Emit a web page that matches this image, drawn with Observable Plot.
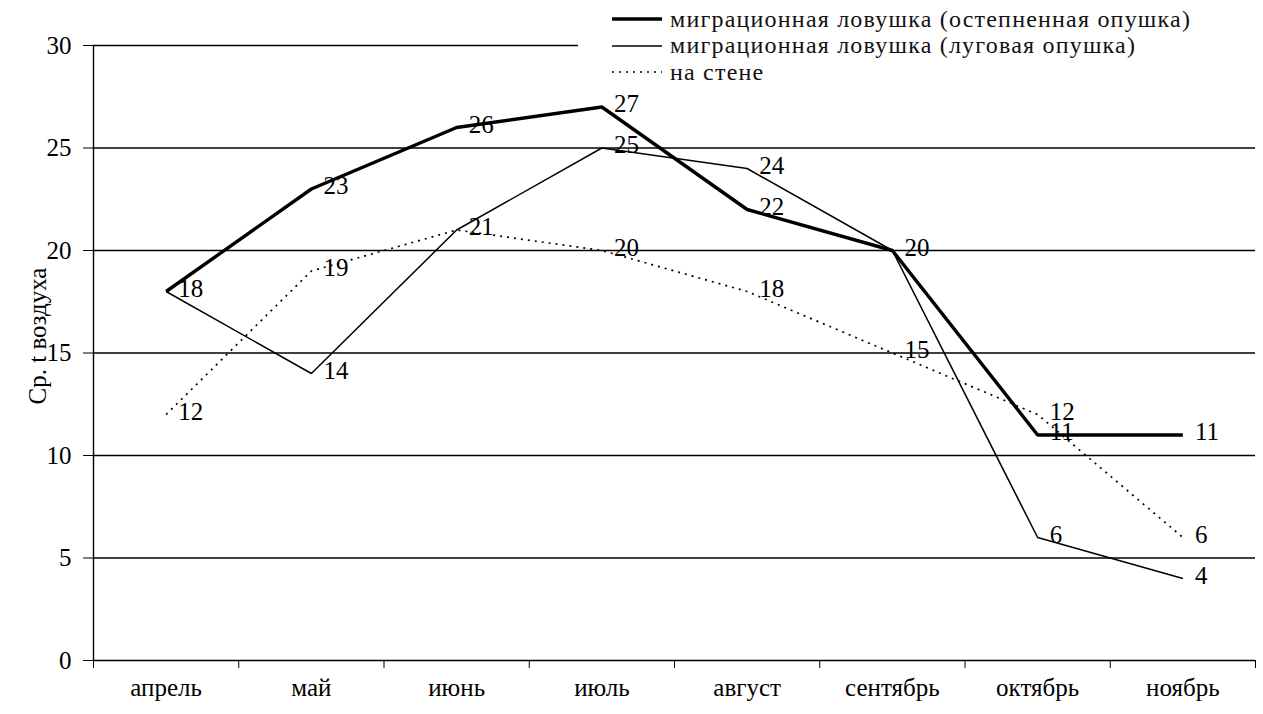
<!DOCTYPE html>
<html>
<head>
<meta charset="utf-8">
<script src="https://cdn.jsdelivr.net/npm/d3@7"></script>
<script src="https://cdn.jsdelivr.net/npm/@observablehq/plot@0.6"></script>
<style>
  body { margin: 0; background: #fff; }
  #wrap { position: relative; width: 1263px; height: 714px; font-family: "Liberation Serif", "DejaVu Serif", serif; }
  #legend { position: absolute; left: 578px; top: 6px; width: 685px; background: #fff; padding: 0 0 4px 34px; font-size: 24px; letter-spacing: 1.2px; color: #111; line-height: 27px; }
  #legend .row { display: flex; align-items: center; height: 26.5px; white-space: nowrap; }
  #legend svg { margin-right: 8px; flex: none; }
</style>
</head>
<body>
<div id="wrap">
  <div id="chart"></div>
  <div id="legend"></div>
</div>
<script>
const months = ["апрель","май","июнь","июль","август","сентябрь","октябрь","ноябрь"];
const steppe = [18, 23, 26, 27, 22, 20, 11, 11];
const meadow = [18, 14, 21, 25, 24, 20, 6, 4];
const wall   = [12, 19, 21, 20, 18, 15, 12, 6];
const yTicks = [0, 5, 10, 15, 20, 25, 30];
const yLabel = "Ср. t воздуха";
const seriesNames = [
  "миграционная ловушка (остепненная опушка)",
  "миграционная ловушка (луговая опушка)",
  "на стене"
];

const seriesStyle = [
  {key: "steppe", values: steppe, strokeWidth: 3.4, dash: null},
  {key: "meadow", values: meadow, strokeWidth: 1.5, dash: null},
  {key: "wall",   values: wall,   strokeWidth: 1.7, dash: "2,5"}
];

const rows = [];
seriesStyle.forEach((s, si) => {
  s.values.forEach((v, i) => rows.push({series: s.key, name: seriesNames[si], month: months[i], x: i + 0.5, y: v}));
});
// one label per distinct (month, value) point, as in the original
const labelRows = rows.filter((r, idx) => rows.findIndex(q => q.x === r.x && q.y === r.y) === idx);

const bounds = d3.range(months.length + 1);
const centers = months.map((m, i) => i + 0.5);
const font = "Liberation Serif";

const lineMarks = seriesStyle.map(s => Plot.line(rows.filter(r => r.series === s.key), {
  x: "x", y: "y", stroke: "#000", strokeWidth: s.strokeWidth,
  strokeDasharray: s.dash, strokeLinejoin: "miter", strokeLinecap: "butt"
}));

const chart = Plot.plot({
  width: 1263,
  height: 714,
  marginLeft: 93,
  marginRight: 8,
  marginTop: 45,
  marginBottom: 54,
  style: {fontFamily: font, background: "#fff", color: "#000"},
  x: {type: "linear", domain: [0, months.length]},
  y: {domain: [0, 30]},
  marks: [
    Plot.ruleY(yTicks, {stroke: "#000", strokeWidth: 1.4}),
    Plot.ruleX([0], {stroke: "#000", strokeWidth: 1.4}),
    Plot.axisY(yTicks, {tickSize: 10, tickPadding: 12, fontSize: 25, stroke: "#000", label: null}),
    Plot.text([yLabel], {frameAnchor: "left", textAnchor: "middle", text: d => d, rotate: -90, dx: -56, dy: -17, fontSize: 25, fill: "#000"}),
    Plot.axisX(bounds, {tickSize: 8, tickFormat: () => "", stroke: "#000", label: null}),
    Plot.axisX(centers, {tickSize: 0, tickPadding: 18, fontSize: 25, tickFormat: d => months[Math.floor(d)], label: null}),
    ...lineMarks,
    Plot.text(labelRows, {x: "x", y: "y", text: d => String(d.y), textAnchor: "start", dx: 12, dy: -3, fontSize: 25, fill: "#000"})
  ]
});
document.getElementById("chart").appendChild(chart);

// legend
const legend = document.getElementById("legend");
seriesStyle.forEach((s, si) => {
  const row = document.createElement("div");
  row.className = "row";
  row.innerHTML = `<svg width="50" height="10"><line x1="0" x2="50" y1="5" y2="5" stroke="#000" stroke-width="${s.strokeWidth}" ${s.dash ? `stroke-dasharray="${s.dash}"` : ""}/></svg><span>${seriesNames[si]}</span>`;
  legend.appendChild(row);
});
</script>
</body>
</html>
